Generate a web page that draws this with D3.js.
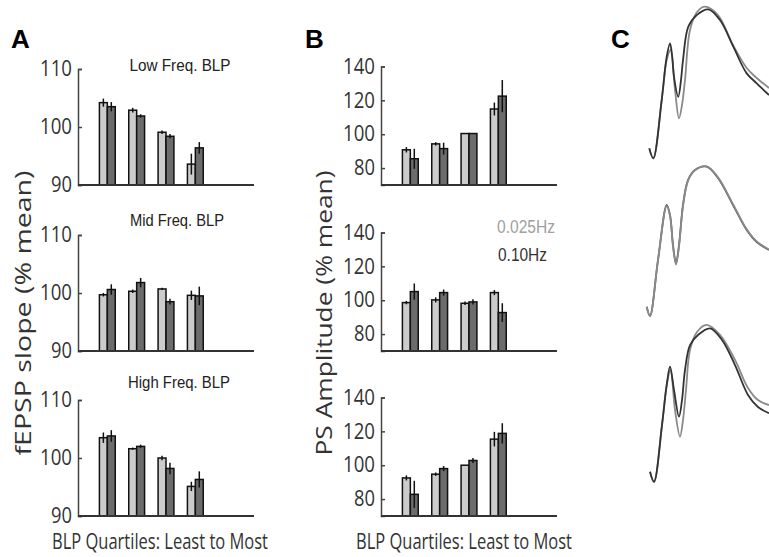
<!DOCTYPE html>
<html>
<head>
<meta charset="utf-8">
<script src="https://cdn.jsdelivr.net/npm/d3@7"></script>
<style>
  body { margin: 0; background: #fff; }
  svg { display: block; }
  text { font-family: "Open Sans", "Liberation Sans", sans-serif; }
</style>
</head>
<body>
<div id="fig"></div>
<script>
// quartile positions (x) and the row titles of panel A
const quartiles = [1, 2, 3, 4];
const bandTitles = ["Low Freq. BLP", "Mid Freq. BLP", "High Freq. BLP"];
const legendLabels = ["0.025Hz", "0.10Hz"];
const slopeTicks = [90, 100, 110];
const ampTicks = [80, 100, 120, 140];

// A: fEPSP slope (% mean), 0.025Hz vs 0.10Hz, mean and sem
const slopeLow025 = [104.2, 102.9, 99.1, 93.6];
const slopeLow025Err = [0.7, 0.4, 0.3, 1.8];
const slopeLow010 = [103.5, 101.9, 98.4, 96.4];
const slopeLow010Err = [0.8, 0.3, 0.4, 1.0];
const slopeMid025 = [99.7, 100.3, 100.7, 99.6];
const slopeMid025Err = [0.3, 0.3, 0.2, 0.8];
const slopeMid010 = [100.6, 101.8, 98.5, 99.5];
const slopeMid010Err = [0.9, 0.8, 0.5, 1.6];
const slopeHigh025 = [103.5, 101.6, 100.0, 95.1];
const slopeHigh025Err = [0.9, 0.2, 0.4, 0.8];
const slopeHigh010 = [103.8, 102.0, 98.2, 96.3];
const slopeHigh010Err = [1.0, 0.3, 1.0, 1.4];

// B: PS amplitude (% mean)
const ampLow025 = [90.8, 94.3, 100.4, 114.9];
const ampLow025Err = [1.6, 1.0, 0.3, 3.8];
const ampLow010 = [85.5, 91.5, 100.4, 122.5];
const ampLow010Err = [5.9, 3.5, 0.3, 9.5];
const ampMid025 = [98.6, 100.2, 98.2, 104.5];
const ampMid025Err = [1.0, 1.5, 1.0, 1.5];
const ampMid010 = [105.1, 104.5, 99.0, 92.7];
const ampMid010Err = [4.8, 1.8, 1.5, 5.5];
const ampHigh025 = [92.5, 94.7, 100.0, 115.4];
const ampHigh025Err = [1.5, 1.0, 0.0, 4.3];
const ampHigh010 = [82.8, 98.0, 102.8, 118.8];
const ampHigh010Err = [8.0, 1.5, 1.5, 6.0];

// C: example field potential traces (time in ms, normalised amplitude)
const lowTime010 = [0.33, 0.73, 1.57, 2.07, 2.4, 2.6, 2.8, 3.23, 3.5, 3.7, 4.23, 5.07, 6.23, 7.4, 8.73, 10.07, 11.07, 12.3];
const lowTrace010 = [0.075, 0.011, 0.387, 0.666, 0.753, 0.677, 0.537, 0.408, 0.516, 0.645, 0.86, 0.935, 0.972, 0.903, 0.731, 0.559, 0.495, 0.419];
const lowTime025 = [0.33, 0.73, 1.57, 2.07, 2.47, 2.9, 3.3, 3.6, 3.9, 4.4, 5.1, 5.9, 7.2, 8.7, 10.07, 11.07, 12.3];
const lowTrace025 = [0.075, 0.011, 0.387, 0.645, 0.71, 0.452, 0.269, 0.355, 0.516, 0.839, 0.955, 0.989, 0.935, 0.742, 0.594, 0.529, 0.465];
const midTime = [0.07, 0.4, 1.2, 2.07, 2.4, 2.7, 3.0, 3.3, 3.7, 4.2, 4.9, 6.07, 7.2, 8.7, 10.07, 11.07, 12.3];
const midTrace010 = [0.073, 0.013, 0.374, 0.729, 0.665, 0.471, 0.353, 0.471, 0.729, 0.89, 0.955, 0.976, 0.903, 0.729, 0.568, 0.49, 0.439];
const midTrace025 = [0.073, 0.013, 0.374, 0.722, 0.66, 0.462, 0.345, 0.462, 0.722, 0.885, 0.953, 0.979, 0.908, 0.735, 0.572, 0.494, 0.442];
const highTime010 = [0.4, 0.8, 1.6, 2.07, 2.4, 2.8, 3.3, 3.6, 3.9, 4.4, 5.2, 6.4, 7.6, 8.9, 10.2, 11.2, 12.3];
const highTrace010 = [0.073, 0.008, 0.374, 0.632, 0.75, 0.6, 0.428, 0.535, 0.729, 0.89, 0.955, 0.998, 0.923, 0.761, 0.568, 0.49, 0.45];
const highTime025 = [0.4, 0.8, 1.6, 2.07, 2.45, 2.9, 3.4, 3.7, 4.0, 4.4, 5.1, 6.07, 7.4, 8.9, 10.2, 11.2, 12.3];
const highTrace025 = [0.073, 0.008, 0.374, 0.632, 0.729, 0.471, 0.299, 0.406, 0.6, 0.858, 0.974, 1.02, 0.955, 0.794, 0.613, 0.535, 0.503];

const width = 769, height = 557;
const rowBottoms = [185, 351, 516];
const lightFill = "#cccccc", darkFill = "#6c6c6c", textCol = "#333";

const svg = d3.select("#fig").append("svg")
  .attr("width", width).attr("height", height);

function drawPanel(left, yDomain, yHeight, ticks, rows) {
  const x = d3.scaleLinear().domain([0, 6]).range([left, left + 176]);
  const bw = 0.27;

  rows.forEach(function (r, i) {
    const bottom = rowBottoms[i];
    const y = d3.scaleLinear().domain(yDomain).range([bottom, bottom - yHeight]);
    const g = svg.append("g");

    const yAxis = g.append("g")
      .attr("transform", "translate(" + left + ",0)")
      .call(d3.axisLeft(y).tickValues(ticks).tickSize(-4).tickPadding(6));
    yAxis.select(".domain").attr("stroke", "#444").attr("stroke-width", 1.5);
    yAxis.selectAll(".tick line").attr("stroke", "#444").attr("stroke-width", 1.5);
    yAxis.selectAll("text")
      .attr("fill", textCol)
      .style("font-size", "21px")
      .attr("textLength", function (d) { return String(d).length === 2 ? 21 : 32; })
      .attr("lengthAdjust", "spacingAndGlyphs");

    const groups = [
      { mean: r.m025, err: r.e025, off: -bw, fill: lightFill },
      { mean: r.m010, err: r.e010, off: 0, fill: darkFill }
    ];
    groups.forEach(function (s) {
      g.selectAll(null).data(quartiles).enter().append("rect")
        .attr("x", function (q) { return x(q + s.off); })
        .attr("width", x(bw) - x(0))
        .attr("y", function (q, j) { return y(s.mean[j]); })
        .attr("height", function (q, j) { return y(yDomain[0]) - y(s.mean[j]); })
        .attr("fill", s.fill)
        .attr("stroke", "#111")
        .attr("stroke-width", 1.5);
      g.selectAll(null).data(quartiles).enter().append("line")
        .attr("x1", function (q) { return x(q + s.off + bw / 2); })
        .attr("x2", function (q) { return x(q + s.off + bw / 2); })
        .attr("y1", function (q, j) { return y(s.mean[j] - s.err[j]); })
        .attr("y2", function (q, j) { return y(s.mean[j] + s.err[j]); })
        .attr("stroke", "#111")
        .attr("stroke-width", 1.5);
    });

    g.append("line")
      .attr("x1", x(0)).attr("x2", x(6))
      .attr("y1", bottom).attr("y2", bottom)
      .attr("stroke", "#333").attr("stroke-width", 2.2);
  });
  return x;
}

drawPanel(78, [90, 110], 116, slopeTicks, [
  { m025: slopeLow025, e025: slopeLow025Err, m010: slopeLow010, e010: slopeLow010Err },
  { m025: slopeMid025, e025: slopeMid025Err, m010: slopeMid010, e010: slopeMid010Err },
  { m025: slopeHigh025, e025: slopeHigh025Err, m010: slopeHigh010, e010: slopeHigh010Err }
]);

drawPanel(381, [70, 140], 118.5, ampTicks, [
  { m025: ampLow025, e025: ampLow025Err, m010: ampLow010, e010: ampLow010Err },
  { m025: ampMid025, e025: ampMid025Err, m010: ampMid010, e010: ampMid010Err },
  { m025: ampHigh025, e025: ampHigh025Err, m010: ampHigh010, e010: ampHigh010Err }
]);

// row titles in panel A
const titlePos = [{ x: 180, y: 71, w: 101 }, { x: 177, y: 226, w: 94 }, { x: 179, y: 388, w: 102 }];
bandTitles.forEach(function (t, i) {
  svg.append("text")
    .attr("x", titlePos[i].x).attr("y", titlePos[i].y)
    .attr("text-anchor", "middle")
    .attr("textLength", titlePos[i].w).attr("lengthAdjust", "spacingAndGlyphs")
    .style("font-family", "'Liberation Sans', Arial, sans-serif")
    .style("font-size", "16px")
    .attr("fill", "#222")
    .text(t);
});

// legend
svg.append("text").attr("x", 497).attr("y", 233)
  .attr("textLength", 58).attr("lengthAdjust", "spacingAndGlyphs")
  .style("font-family", "'Liberation Sans', Arial, sans-serif").style("font-size", "19px")
  .attr("fill", "#a0a0a0").text(legendLabels[0]);
svg.append("text").attr("x", 498).attr("y", 261)
  .attr("textLength", 49).attr("lengthAdjust", "spacingAndGlyphs")
  .style("font-family", "'Liberation Sans', Arial, sans-serif").style("font-size", "19px")
  .attr("fill", "#333").text(legendLabels[1]);

// axis labels
[160, 464].forEach(function (cx) {
  svg.append("text").attr("x", cx).attr("y", 549)
    .attr("text-anchor", "middle")
    .attr("textLength", 216).attr("lengthAdjust", "spacingAndGlyphs")
    .style("font-size", "21px").attr("fill", textCol)
    .text("BLP Quartiles: Least to Most");
});
[{ x: 31, t: "fEPSP slope (% mean)" }, { x: 332, t: "PS Amplitude (% mean)" }].forEach(function (d) {
  svg.append("text")
    .attr("transform", "translate(" + d.x + ",313) rotate(-90)")
    .attr("text-anchor", "middle")
    .attr("textLength", 285).attr("lengthAdjust", "spacingAndGlyphs")
    .style("font-size", "22px").attr("fill", textCol)
    .text(d.t);
});

// panel letters
[{ x: 11, t: "A" }, { x: 305, t: "B" }, { x: 611, t: "C" }].forEach(function (d) {
  svg.append("text").attr("x", d.x).attr("y", 48)
    .style("font-family", "'Liberation Sans', Arial, sans-serif")
    .style("font-weight", "bold").style("font-size", "26px")
    .attr("fill", "#000").text(d.t);
});

// panel C traces
const tx = d3.scaleLinear().domain([0, 12.3]).range([646, 769]);
const traceRows = [
  { bottom: 160, traces: [{ t: lowTime025, v: lowTrace025, c: "#8a8a8a" }, { t: lowTime010, v: lowTrace010, c: "#333" }] },
  { bottom: 318, traces: [{ t: midTime, v: midTrace010, c: "#555" }, { t: midTime, v: midTrace025, c: "#8a8a8a" }] },
  { bottom: 483, traces: [{ t: highTime025, v: highTrace025, c: "#8a8a8a" }, { t: highTime010, v: highTrace010, c: "#333" }] }
];
const clip = svg.append("clipPath").attr("id", "cclip");
clip.append("rect").attr("x", 600).attr("y", 0).attr("width", 169).attr("height", height);
traceRows.forEach(function (row) {
  const ty = d3.scaleLinear().domain([0, 1]).range([row.bottom, row.bottom - 155]);
  row.traces.forEach(function (tr) {
    const line = d3.line()
      .x(function (d, i) { return tx(tr.t[i]); })
      .y(function (d) { return ty(d); })
      .curve(d3.curveCatmullRom.alpha(0.5));
    svg.append("path")
      .attr("clip-path", "url(#cclip)")
      .attr("d", line(tr.v))
      .attr("fill", "none")
      .attr("stroke", tr.c)
      .attr("stroke-width", 1.8)
      .attr("stroke-linejoin", "round");
  });
});
</script>
</body>
</html>
